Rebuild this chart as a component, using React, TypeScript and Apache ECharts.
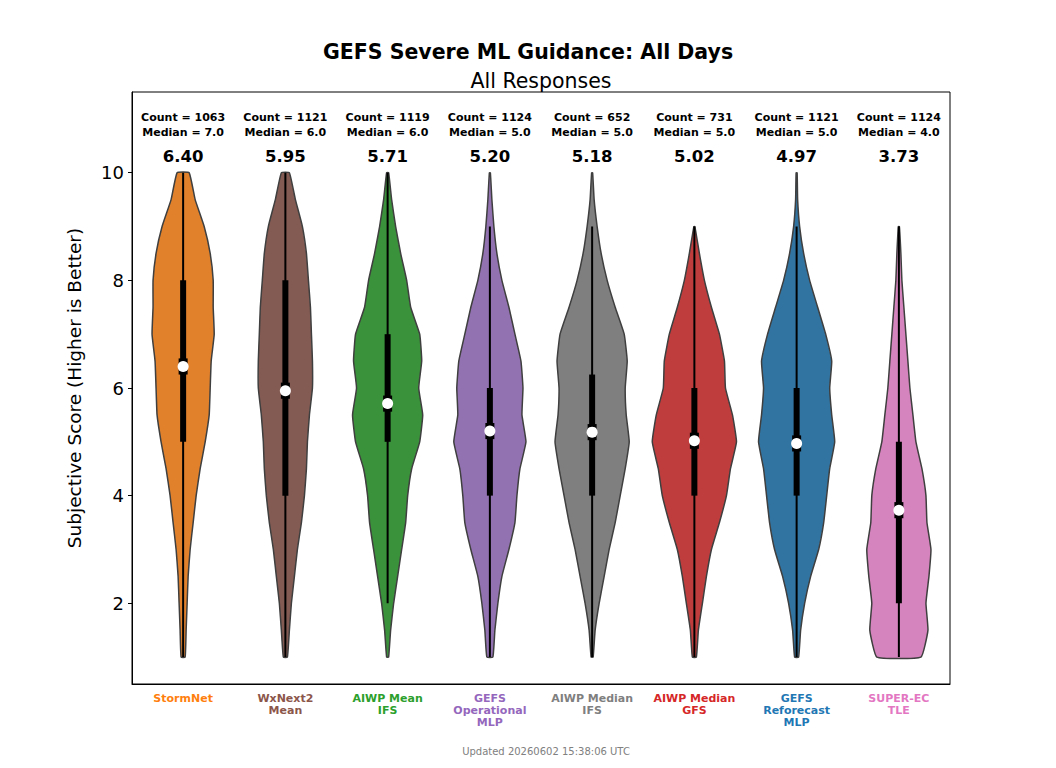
import { useEffect, useRef } from "react";
import * as echarts from "echarts";

const models = ["StormNet", "WxNext2\nMean", "AIWP Mean\nIFS", "GEFS\nOperational\nMLP", "AIWP Median\nIFS", "AIWP Median\nGFS", "GEFS\nReforecast\nMLP", "SUPER-EC\nTLE"];
const fillColors = ["#e1812c", "#845b53", "#3a923a", "#9372b2", "#7f7f7f", "#c03d3e", "#3274a1", "#d684bd"];
const labelColors = ["#ff7f0e", "#8c564b", "#2ca02c", "#9467bd", "#7f7f7f", "#d62728", "#1f77b4", "#e377c2"];
const counts = [1063, 1121, 1119, 1124, 652, 731, 1121, 1124];
const medians = [7.0, 6.0, 6.0, 5.0, 5.0, 5.0, 5.0, 4.0];
const means = [6.40, 5.95, 5.71, 5.20, 5.18, 5.02, 4.97, 3.73];
const mins = [1, 1, 2, 1, 1, 1, 1, 1];
const q1s = [5, 4, 5, 4, 4, 4, 4, 2];
const q3s = [8, 8, 7, 6, 6.25, 6, 6, 5];
const maxs = [10, 10, 10, 9, 9, 9, 9, 9];

// density half-widths (relative) at scores 1, 1.5, ... 10
const levels = [1, 1.5, 2, 2.5, 3, 3.5, 4, 4.5, 5, 5.5, 6, 6.5, 7, 7.5, 8, 8.5, 9, 9.5, 10];
const densities = [
  [2, 3, 4, 5, 7, 10, 13, 17, 22, 26, 27, 28, 31, 30, 30, 27, 21, 12, 6],
  [2, 4, 6, 9, 12, 16, 19, 21, 22, 24, 27, 27, 26, 25, 23, 21, 17, 10, 4],
  [1, 3, 6, 10, 14, 18, 20, 24, 32, 35, 31, 34, 32, 23, 19, 13, 8, 4, 1],
  [3, 5, 8, 12, 19, 25, 27, 30, 36, 32, 33, 31, 25, 19, 12, 7, 4, 2, 0.5],
  [1, 3, 7, 12, 17, 23, 28, 33, 37, 34, 33, 35, 32, 23, 15, 9, 5, 2, 0.5],
  [2, 4, 8, 12, 17, 25, 32, 36, 42, 38, 31, 30, 25, 17, 10, 5, 0.5],
  [2, 4, 8, 14, 22, 27, 30, 33, 38, 35, 33, 35, 29, 21, 13, 7, 3, 1, 0.5],
  [22, 29, 27, 30, 32, 28, 27, 23, 17, 14, 11, 9, 7, 5, 3, 2, 0.5],
];

export default function App() {
  const ref = useRef<HTMLDivElement | null>(null);

  useEffect(() => {
    document.body.style.margin = "0";
    if (!ref.current) return;
    const chart = echarts.init(ref.current, null, { renderer: "svg" });
    const rich: Record<string, object> = {};
    labelColors.forEach((c, i) => {
      rich["c" + i] = { color: c, fontWeight: "bold", fontSize: 11, lineHeight: 12, align: "center" };
    });

    chart.setOption({
      animation: false,
      textStyle: { fontFamily: "DejaVu Sans" },
      title: [
        { text: "GEFS Severe ML Guidance: All Days", left: 523, top: 36, textAlign: "center", textStyle: { fontSize: 20.5, fontWeight: "bold", color: "#000", fontFamily: "DejaVu Sans" } },
        { text: "All Responses", left: 536, top: 65, textAlign: "center", textStyle: { fontSize: 20.5, fontWeight: "normal", color: "#000", fontFamily: "DejaVu Sans" } },
        { text: "Updated 20260602 15:38:06 UTC", left: 541, top: 741, textAlign: "center", textStyle: { fontSize: 10, fontWeight: "normal", color: "#808080", fontFamily: "DejaVu Sans" } },
      ],
      grid: { left: 132, right: 106, top: 92, bottom: 84, show: true, borderColor: "#000", borderWidth: 1 },
      xAxis: {
        type: "category",
        data: models,
        axisLine: { lineStyle: { color: "#000" } },
        axisTick: { alignWithLabel: true, length: 4, lineStyle: { color: "#000" } },
        axisLabel: {
          margin: 8,
          interval: 0,
          formatter: (v: string) => {
            const i = models.indexOf(v);
            return v.split("\n").map((l) => `{c${i}|${l}}`).join("\n");
          },
          rich,
        },
      },
      yAxis: {
        type: "value",
        min: 0.5,
        max: 11.5,
        name: "Subjective Score (Higher is Better)",
        nameLocation: "middle",
        nameGap: 48,
        nameTextStyle: { fontSize: 18.5, color: "#000" },
        splitLine: { show: false },
        axisLine: { show: true, lineStyle: { color: "#000" } },
        axisTick: { show: true, length: 4, customValues: [2, 4, 6, 8, 10], lineStyle: { color: "#000" } },
        axisLabel: { fontSize: 18, color: "#000", customValues: [2, 4, 6, 8, 10] },
      },
      series: [
        {
          type: "custom",
          data: models.map((_, i) => [i]),
          renderItem: (params: any, api: any) => {
            const i = api.value(0);
            const catW = api.size([1, 0])[0];
            const cx = api.coord([i, 5])[0];
            const d = densities[i];
            const scale = catW / 102;
            const right: number[][] = [];
            const left: number[][] = [];
            d.forEach((w, k) => {
              const y = api.coord([i, levels[k]])[1];
              right.push([cx + w * scale, y]);
              left.unshift([cx - w * scale, y]);
            });
            const yOf = (v: number) => api.coord([i, v])[1];
            const txt = (text: string, v: number, size: number) => ({
              type: "text",
              style: { text, x: cx, y: yOf(v), fontSize: size, fontWeight: "bold", fill: "#000", align: "center", verticalAlign: "middle", fontFamily: "DejaVu Sans" },
            });
            return {
              type: "group",
              children: [
                { type: "polygon", shape: { points: right.concat(left), smooth: 0.12 }, style: { fill: fillColors[i], stroke: "#3f3f3f", lineWidth: 1.5 } },
                { type: "line", shape: { x1: cx, y1: yOf(mins[i]), x2: cx, y2: yOf(maxs[i]) }, style: { stroke: "#000", lineWidth: 2 } },
                { type: "rect", shape: { x: cx - 3, y: yOf(q3s[i]), width: 6, height: yOf(q1s[i]) - yOf(q3s[i]) }, style: { fill: "#000" } },
                { type: "rect", shape: { x: cx - 4.5, y: yOf(means[i] + 0.15), width: 9, height: yOf(means[i] - 0.15) - yOf(means[i] + 0.15) }, style: { fill: "#000" } },
                { type: "circle", shape: { cx, cy: yOf(means[i]), r: 5.5 }, style: { fill: "#fff" } },
                txt(`Count = ${counts[i]}`, 11.02, 11),
                txt(`Median = ${medians[i].toFixed(1)}`, 10.74, 11),
                txt(means[i].toFixed(2), 10.3, 16.5),
              ],
            };
          },
        },
      ],
    });
    return () => chart.dispose();
  }, []);

  return <div ref={ref} style={{ width: 1056, height: 768 }} />;
}
